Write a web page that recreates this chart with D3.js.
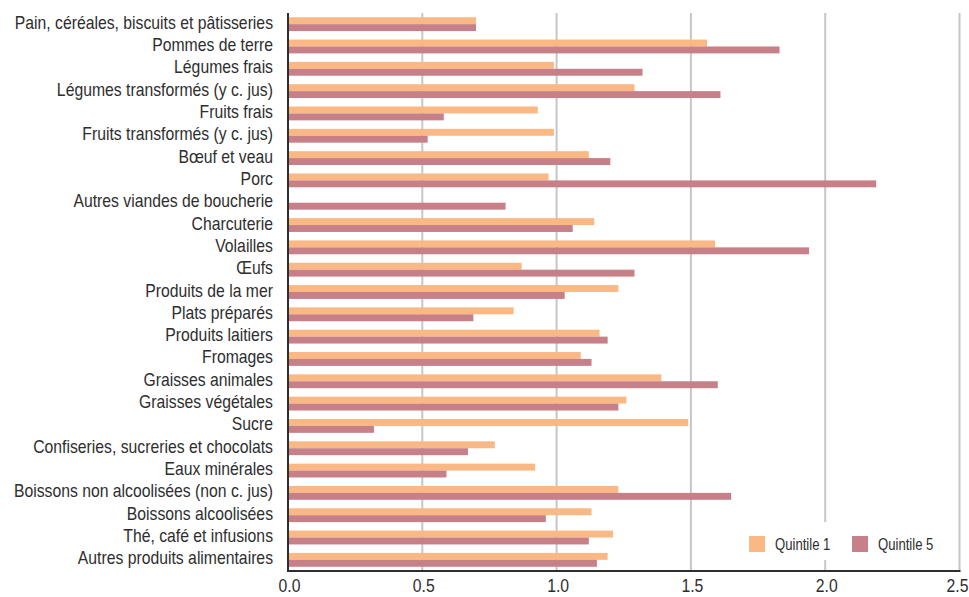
<!DOCTYPE html>
<html>
<head>
<meta charset="utf-8">
<script src="https://cdn.jsdelivr.net/npm/d3@7"></script>
<style>
  html, body { margin: 0; padding: 0; background: #fff; }
  svg { display: block; }
  text { font-family: "Liberation Sans", Arial, sans-serif; fill: #2e2e2e; }
</style>
</head>
<body>
<svg id="chart" width="969" height="597"></svg>
<script>
const categories = [
  "Pain, céréales, biscuits et pâtisseries",
  "Pommes de terre",
  "Légumes frais",
  "Légumes transformés (y c. jus)",
  "Fruits frais",
  "Fruits transformés (y c. jus)",
  "Bœuf et veau",
  "Porc",
  "Autres viandes de boucherie",
  "Charcuterie",
  "Volailles",
  "Œufs",
  "Produits de la mer",
  "Plats préparés",
  "Produits laitiers",
  "Fromages",
  "Graisses animales",
  "Graisses végétales",
  "Sucre",
  "Confiseries, sucreries et chocolats",
  "Eaux minérales",
  "Boissons non alcoolisées (non c. jus)",
  "Boissons alcoolisées",
  "Thé, café et infusions",
  "Autres produits alimentaires"
];

const quintile1 = [0.70, 1.56, 0.99, 1.29, 0.93, 0.99, 1.12, 0.97, 0, 1.14, 1.59, 0.87, 1.23, 0.84, 1.16, 1.09, 1.39, 1.26, 1.49, 0.77, 0.92, 1.23, 1.13, 1.21, 1.19];
const quintile5 = [0.70, 1.83, 1.32, 1.61, 0.58, 0.52, 1.20, 2.19, 0.81, 1.06, 1.94, 1.29, 1.03, 0.69, 1.19, 1.13, 1.60, 1.23, 0.32, 0.67, 0.59, 1.65, 0.96, 1.12, 1.15];

const seriesNames = ["Quintile 1", "Quintile 5"];
const seriesColors = ["#f9b884", "#c77f88"];
const xTicks = [0, 0.5, 1.0, 1.5, 2.0, 2.5];

// narrow the sans-serif glyphs horizontally for a condensed look
const SQUEEZE = 0.875;

const svg = d3.select("#chart");
const margin = { left: 288, right: 9, top: 13, bottom: 26 };
const width = 969, height = 597;

const x = d3.scaleLinear().domain([0, 2.5]).range([margin.left, width - margin.right - 0.5]);
const y = d3.scaleBand().domain(categories).range([margin.top, height - margin.bottom]).paddingInner(0.38).paddingOuter(0.19);
const sub = d3.scaleBand().domain(seriesNames).range([0, y.bandwidth()]);

// vertical gridlines
svg.append("g").selectAll("line")
  .data(xTicks.slice(1))
  .join("line")
  .attr("x1", d => x(d)).attr("x2", d => x(d))
  .attr("y1", margin.top).attr("y2", height - margin.bottom)
  .attr("stroke", "#c6c6c6").attr("stroke-width", 2);

// bars
const rows = categories.map((c, i) => ({ c, vals: [quintile1[i], quintile5[i]] }));
const g = svg.append("g");
rows.forEach(r => {
  r.vals.forEach((v, k) => {
    if (v <= 0) return;
    g.append("rect")
      .attr("x", x(0))
      .attr("y", y(r.c) + sub(seriesNames[k]))
      .attr("width", x(v) - x(0))
      .attr("height", sub.bandwidth())
      .attr("fill", seriesColors[k]);
  });
});

// legend with white backing
const lg = svg.append("g");
lg.append("rect").attr("x", 738).attr("y", 522).attr("width", 212).attr("height", 38).attr("fill", "#fff");
seriesNames.forEach((s, k) => {
  const lx = 749 + k * 103;
  lg.append("rect").attr("x", lx).attr("y", 536).attr("width", 16).attr("height", 16).attr("fill", seriesColors[k]);
  lg.append("text")
    .attr("transform", `translate(${lx + 26},550) scale(0.82,1)`)
    .attr("font-size", 16).text(s);
});

// y axis labels
const yAxis = d3.axisLeft(y).tickSize(0).tickPadding(0);
const ya = svg.append("g").attr("transform", `translate(${margin.left},0)`).call(yAxis);
ya.select(".domain").remove();
ya.selectAll("text")
  .attr("font-size", 18).attr("fill", "#2e2e2e").attr("font-family", null)
  .attr("x", 0).attr("dy", 4.5).attr("text-anchor", "end")
  .attr("transform", `translate(-15,0) scale(${SQUEEZE},1)`);

// x axis; the last label is kept inside the right edge
const xAxis = d3.axisBottom(x).tickValues(xTicks).tickFormat(d3.format(".1f")).tickSize(0).tickPadding(0);
const xa = svg.append("g").attr("transform", `translate(0,${height - margin.bottom})`).call(xAxis);
xa.select(".domain").remove();
const lastTick = xTicks[xTicks.length - 1];
xa.selectAll("text")
  .attr("font-size", 18).attr("fill", "#2e2e2e").attr("font-family", null)
  .attr("y", 0).attr("dy", 0)
  .attr("text-anchor", d => d === lastTick ? "end" : "middle")
  .attr("transform", d => d === lastTick
    ? `translate(${width - 1 - x(d)},21) scale(${SQUEEZE},1)`
    : `translate(1,21) scale(${SQUEEZE},1)`);

// axis lines
svg.append("line").attr("x1", margin.left).attr("x2", margin.left)
  .attr("y1", margin.top).attr("y2", height - margin.bottom + 1)
  .attr("stroke", "#2e2e2e").attr("stroke-width", 2);
svg.append("line").attr("x1", margin.left - 1).attr("x2", x(2.5) + 1)
  .attr("y1", height - margin.bottom).attr("y2", height - margin.bottom)
  .attr("stroke", "#2e2e2e").attr("stroke-width", 2);
</script>
</body>
</html>
